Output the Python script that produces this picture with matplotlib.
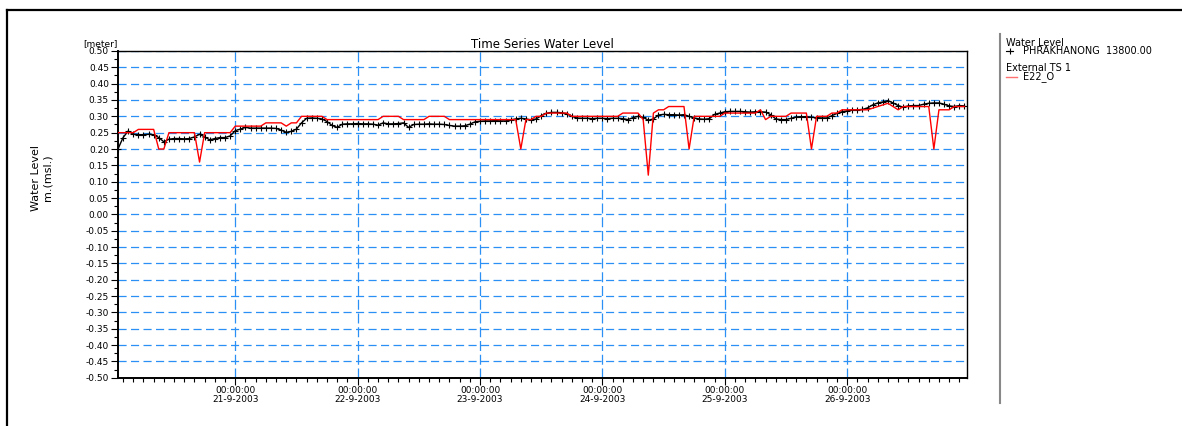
import matplotlib
matplotlib.use("Agg")
import matplotlib.pyplot as plt
import matplotlib.dates as mdates
from matplotlib.lines import Line2D
from matplotlib.ticker import MultipleLocator, FormatStrFormatter, FuncFormatter
import pandas as pd

plt.rcParams['font.family'] = ['DejaVu Sans']
plt.rcParams['axes.unicode_minus'] = False

# hourly series, starting 20-9-2003 01:00
start = "2003-09-20 01:00"

phrakhanong = [
    0.200, 0.235, 0.255, 0.245, 0.244, 0.244, 0.245, 0.244, 0.235, 0.222,
    0.230, 0.232, 0.232, 0.231, 0.232, 0.237, 0.245, 0.237, 0.228, 0.232,
    0.235, 0.235, 0.240, 0.256, 0.261, 0.266, 0.264, 0.264, 0.264, 0.264,
    0.264, 0.263, 0.258, 0.251, 0.254, 0.261, 0.280, 0.294, 0.295, 0.294,
    0.292, 0.284, 0.272, 0.266, 0.276, 0.277, 0.277, 0.278, 0.277, 0.277,
    0.276, 0.273, 0.280, 0.277, 0.277, 0.278, 0.280, 0.266, 0.275, 0.276,
    0.276, 0.277, 0.276, 0.276, 0.275, 0.272, 0.270, 0.270, 0.271, 0.276,
    0.283, 0.285, 0.286, 0.286, 0.287, 0.286, 0.286, 0.289, 0.292, 0.294,
    0.292, 0.289, 0.292, 0.302, 0.309, 0.312, 0.312, 0.311, 0.308, 0.300,
    0.295, 0.294, 0.294, 0.293, 0.294, 0.294, 0.293, 0.294, 0.294, 0.293,
    0.290, 0.296, 0.300, 0.297, 0.288, 0.292, 0.304, 0.306, 0.305, 0.305,
    0.304, 0.305, 0.300, 0.295, 0.292, 0.291, 0.293, 0.306, 0.310, 0.314,
    0.315, 0.315, 0.315, 0.314, 0.313, 0.314, 0.314, 0.313, 0.305, 0.292,
    0.290, 0.290, 0.294, 0.298, 0.299, 0.299, 0.297, 0.296, 0.295, 0.295,
    0.302, 0.309, 0.314, 0.317, 0.320, 0.320, 0.321, 0.326, 0.335, 0.341,
    0.344, 0.348, 0.341, 0.333, 0.328, 0.332, 0.333, 0.333, 0.337, 0.340,
    0.341, 0.341, 0.337, 0.332, 0.330, 0.333, 0.332,
]

e22_o = [
    0.25, 0.25, 0.25, 0.25, 0.26, 0.26, 0.26, 0.26, 0.20, 0.20,
    0.25, 0.25, 0.25, 0.25, 0.25, 0.25, 0.16, 0.25, 0.25, 0.25,
    0.25, 0.25, 0.25, 0.27, 0.27, 0.27, 0.27, 0.27, 0.27, 0.28,
    0.28, 0.28, 0.28, 0.27, 0.28, 0.28, 0.30, 0.30, 0.30, 0.30,
    0.30, 0.29, 0.29, 0.29, 0.29, 0.29, 0.29, 0.29, 0.29, 0.29,
    0.29, 0.29, 0.30, 0.30, 0.30, 0.30, 0.29, 0.29, 0.29, 0.29,
    0.29, 0.30, 0.30, 0.30, 0.30, 0.29, 0.29, 0.29, 0.29, 0.29,
    0.29, 0.29, 0.29, 0.29, 0.29, 0.29, 0.29, 0.29, 0.29, 0.20,
    0.29, 0.29, 0.30, 0.30, 0.31, 0.31, 0.31, 0.31, 0.31, 0.30,
    0.30, 0.30, 0.30, 0.30, 0.30, 0.30, 0.30, 0.30, 0.30, 0.31,
    0.31, 0.31, 0.31, 0.29, 0.12, 0.31, 0.32, 0.32, 0.33, 0.33,
    0.33, 0.33, 0.20, 0.30, 0.30, 0.30, 0.30, 0.30, 0.30, 0.31,
    0.31, 0.31, 0.31, 0.31, 0.31, 0.31, 0.32, 0.29, 0.30, 0.30,
    0.30, 0.30, 0.31, 0.31, 0.31, 0.31, 0.20, 0.30, 0.30, 0.30,
    0.31, 0.31, 0.32, 0.32, 0.32, 0.32, 0.32, 0.32, 0.325, 0.33,
    0.335, 0.34, 0.33, 0.32, 0.33, 0.33, 0.33, 0.33, 0.33, 0.33,
    0.20, 0.32, 0.32, 0.32, 0.33, 0.33, 0.33,
]

times = pd.date_range(start, periods=len(phrakhanong), freq="h")

fig = plt.figure(figsize=(11.82, 4.26), dpi=100)
ax = fig.add_axes([0.0998, 0.1134, 0.7183, 0.7669])

grid_blue = "#2a90f5"
ax.plot(times, phrakhanong, color="black", lw=1.0, marker="+", ms=4.5, mew=0.8, zorder=3)
ax.plot(times, e22_o, color="red", lw=1.0, zorder=4)

ax.set_xlim(pd.Timestamp("2003-09-20 01:00"), pd.Timestamp("2003-09-26 23:30"))
ax.set_ylim(-0.5, 0.5)

ax.yaxis.set_major_locator(MultipleLocator(0.05))
ax.yaxis.set_minor_locator(MultipleLocator(0.025))
ax.yaxis.set_major_formatter(FormatStrFormatter("%.2f"))

ax.xaxis.set_major_locator(mdates.DayLocator())
ax.xaxis.set_minor_locator(mdates.HourLocator(byhour=range(0, 24, 2)))


def day_label(x, pos):
    d = mdates.num2date(x)
    return f"{d:%H:%M:%S}\n{d.day}-{d.month}-{d.year}"


ax.xaxis.set_major_formatter(FuncFormatter(day_label))

ax.tick_params(axis="both", which="major", direction="out", length=5, width=0.8,
               labelsize=6.5, pad=1.5)
ax.tick_params(axis="x", which="major", pad=1.0)
ax.tick_params(axis="both", which="minor", direction="out", length=3, width=0.8)
for lbl in ax.get_xticklabels():
    lbl.set_linespacing(1.05)

ax.yaxis.grid(True, which="major", color=grid_blue, lw=0.9, ls=(0, (6.5, 3.5)))
ax.xaxis.grid(True, which="major", color=grid_blue, lw=0.9, ls=(0, (8, 3)))
ax.set_axisbelow(True)

for side in ["left", "bottom"]:
    ax.spines[side].set_linewidth(1.4)
for side in ["top", "right"]:
    ax.spines[side].set_linewidth(1.0)

ax.set_title("Time Series Water Level", fontsize=8.5, pad=1.5)
ax.text(0.0, 1.01, "[meter]", transform=ax.transAxes, ha="right", va="bottom", fontsize=6.5)

fig.text(42 / 1182, 1 - 178 / 426, "Water Level\nm.(msl.)", rotation=90,
         ha="center", va="center", fontsize=8, multialignment="center")

# outer frame lines and the legend separator
fig.add_artist(Line2D([7 / 1182, 1.0], [1 - 10 / 426, 1 - 10 / 426], color="black", lw=1.6))
fig.add_artist(Line2D([7 / 1182, 7 / 1182], [0.0, 1 - 10 / 426], color="black", lw=1.6))
fig.add_artist(Line2D([1000 / 1182, 1000 / 1182], [1 - 34 / 426, 1 - 403 / 426],
                      color="#888888", lw=1.5))

# legend block
fig.text(1006 / 1182, 1 - 43 / 426, "Water Level", fontsize=7, va="center")
fig.add_artist(Line2D([1006 / 1182, 1013 / 1182], [1 - 51 / 426, 1 - 51 / 426],
                      color="black", lw=0.8))
fig.add_artist(Line2D([1009.5 / 1182], [1 - 51 / 426], color="black", ls="none",
                      marker="+", ms=5, mew=0.8))
fig.text(1023 / 1182, 1 - 51 / 426, "PHRAKHANONG  13800.00", fontsize=7, va="center")
fig.text(1006 / 1182, 1 - 68 / 426, "External TS 1", fontsize=7, va="center")
fig.add_artist(Line2D([1006 / 1182, 1017 / 1182], [1 - 77 / 426, 1 - 77 / 426],
                      color="#ff7070", lw=1.0))
fig.text(1023 / 1182, 1 - 77 / 426, "E22_O", fontsize=7, va="center")

fig.savefig("out.png", dpi=100)
